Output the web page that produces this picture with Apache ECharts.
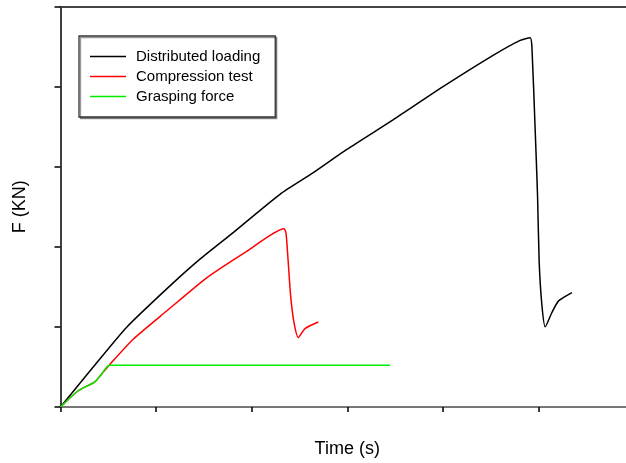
<!DOCTYPE html>
<html>
<head>
<meta charset="utf-8">
<script src="https://cdn.jsdelivr.net/npm/echarts@6/dist/echarts.min.js"></script>
<style>
  html, body { margin: 0; padding: 0; background: #fff; overflow: hidden; }
  /* the plot frame runs a little past the right edge of the window */
  #chart { width: 634px; height: 463px; }
</style>
</head>
<body>
<div id="chart"></div>
<script>
// Force–time records of the three tests: [time (s), force (KN)]
const seriesNames = ['Distributed loading', 'Compression test', 'Grasping force'];

const distributedLoading = [
  [0, 0], [0.34, 0.495], [0.69, 0.993], [1.145, 1.512], [1.459, 1.846],
  [1.807, 2.178], [2.296, 2.655], [2.645, 2.925], [2.995, 3.215],
  [3.483, 3.588], [4.006, 4.002], [4.53, 4.393], [4.809, 4.577],
  [4.914, 4.611], [4.932, 4.494], [4.966, 3.462], [4.991, 2.633],
  [5.008, 1.808], [5.037, 1.264], [5.071, 1.001], [5.141, 1.18],
  [5.211, 1.325], [5.351, 1.429]
];

const compressionTest = [
  [0, 0], [0.185, 0.203], [0.359, 0.315], [0.429, 0.41], [0.509, 0.522],
  [0.76, 0.846], [1.11, 1.198], [1.529, 1.613], [1.948, 1.944],
  [2.338, 2.226], [2.359, 2.173], [2.383, 1.8], [2.408, 1.384],
  [2.443, 1.053], [2.488, 0.867], [2.558, 0.979], [2.697, 1.061]
];

const graspingForce = [
  [0, 0], [0.185, 0.203], [0.359, 0.315], [0.429, 0.41], [0.509, 0.522],
  [3.448, 0.522]
];

const seriesColors = ['#000000', '#ff0000', '#00ee00'];
const seriesData = [distributedLoading, compressionTest, graspingForce];

const chart = echarts.init(document.getElementById('chart'), null, { renderer: 'canvas' });

const fontFamily = 'Arial, "Liberation Sans", Helvetica, sans-serif';

chart.setOption({
  animation: false,
  backgroundColor: '#ffffff',
  textStyle: { fontFamily: fontFamily },
  grid: { left: 60.5, right: 0, top: 6.5, bottom: 55, containLabel: false },
  legend: {
    data: seriesNames,
    orient: 'vertical',
    left: 79,
    top: 36,
    padding: [10.5, 15, 10.5, 11],
    icon: 'path://M0,0H36V1.4H0Z',
    itemWidth: 36,
    itemHeight: 20,
    itemGap: 0,
    backgroundColor: '#ffffff',
    borderColor: '#333333',
    borderWidth: 1.3,
    shadowColor: 'rgba(0,0,0,0.4)',
    shadowOffsetX: 1.5,
    shadowOffsetY: 1.5,
    shadowBlur: 0,
    textStyle: {
      color: '#000',
      fontSize: 15,
      fontFamily: fontFamily,
      lineHeight: 20,
      padding: [0, 0, 0, 5]
    }
  },
  xAxis: [
    {
      type: 'value',
      position: 'bottom',
      min: 0,
      max: 6,
      interval: 1,
      name: 'Time (s)',
      nameLocation: 'middle',
      nameGap: 33,
      nameTextStyle: { color: '#000', fontSize: 18, fontFamily: fontFamily },
      axisLine: { show: true, lineStyle: { color: '#777777', width: 2 } },
      axisTick: { show: true, length: 5, lineStyle: { color: '#000', width: 1.5 } },
      axisLabel: { show: false },
      splitLine: { show: false }
    },
    {
      type: 'value',
      position: 'top',
      min: 0,
      max: 6,
      interval: 1,
      axisLine: { show: true, lineStyle: { color: '#444444', width: 1.8 } },
      axisTick: { show: false },
      axisLabel: { show: false },
      splitLine: { show: false }
    }
  ],
  yAxis: {
    type: 'value',
    min: 0,
    max: 5,
    interval: 1,
    name: 'F (KN)',
    nameLocation: 'middle',
    nameGap: 31,
    nameTextStyle: { color: '#000', fontSize: 18, fontFamily: fontFamily },
    axisLine: { show: true, lineStyle: { color: '#000', width: 1.5 } },
    axisTick: { show: true, length: 6, lineStyle: { color: '#000', width: 1.5 } },
    axisLabel: { show: false },
    splitLine: { show: false }
  },
  series: seriesNames.map((name, i) => ({
    name: name,
    type: 'line',
    xAxisIndex: 0,
    data: seriesData[i],
    symbol: 'none',
    smooth: 0.2,
    color: seriesColors[i],
    lineStyle: { color: seriesColors[i], width: 1.5 },
    z: 2 + i
  }))
});
</script>
</body>
</html>
